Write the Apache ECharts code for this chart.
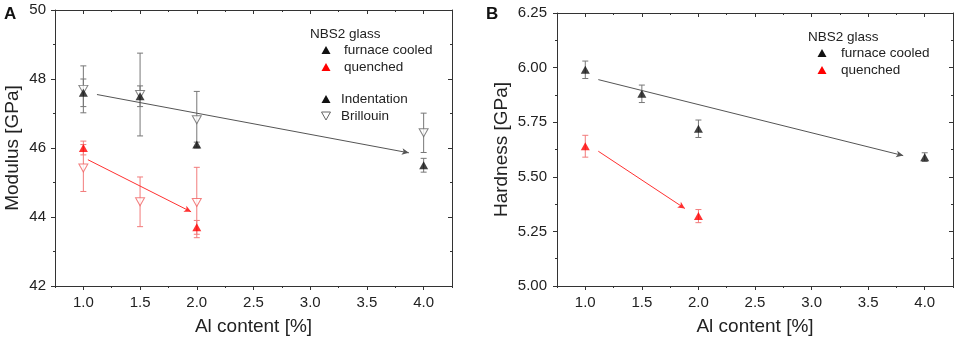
<!DOCTYPE html>
<html>
<head>
<meta charset="utf-8">
<script src="https://cdn.jsdelivr.net/npm/echarts@6/dist/echarts.min.js"></script>
<style>
  html, body { margin: 0; padding: 0; background: #fff; }
  #chart { width: 957px; height: 341px; }
</style>
</head>
<body>
<div id="chart"></div>
<script>
// ---- data ----
const xMajor = [1.0, 1.5, 2.0, 2.5, 3.0, 3.5, 4.0];
const xMinor = [0.75, 1.25, 1.75, 2.25, 2.75, 3.25, 3.75, 4.25];

// panel A: modulus
const modFcX = [1.0, 1.5, 2.0, 4.0];
const modIndFc = [47.6, 47.5, 46.1, 45.5];
const modIndFcErr = [0.4, 0.3, 0.07, 0.2];
const modBriFc = [47.7, 47.55, 46.82, 46.44];
const modBriFcErr = [0.68, 1.2, 0.82, 0.57];
const modIndQX = [1.0, 2.0];
const modIndQ = [46.0, 43.7];
const modIndQErr = [0.2, 0.2];
const modBriQX = [1.0, 1.5, 2.0];
const modBriQ = [45.42, 44.44, 44.42];
const modBriQErr = [0.68, 0.72, 1.02];
const modArrowFc = [[1.12, 47.55], [3.87, 45.86]];
const modArrowQ = [[1.04, 45.66], [1.95, 44.15]];

// panel B: hardness
const hardFcX = [1.0, 1.5, 2.0, 4.0];
const hardFc = [5.99, 5.88, 5.72, 5.59];
const hardFcErr = [0.04, 0.04, 0.04, 0.02];
const hardQX = [1.0, 2.0];
const hardQ = [5.64, 5.32];
const hardQErr = [0.05, 0.03];
const hardArrowFc = [[1.115, 5.945], [3.81, 5.597]];
const hardArrowQ = [[1.115, 5.617], [1.88, 5.355]];

const FONT = 'Liberation Sans, Arial, sans-serif';
const AXIS = '#333';
const BLACK = '#111';
const GREY_ERR = '#777';
const RED = '#ff0000';
const RED_ERR = '#f27b7b';

function pts(xs, ys) { return xs.map((x, i) => [x, ys[i]]); }
function errs(xs, ys, es) { return xs.map((x, i) => [x, ys[i] - es[i], ys[i] + es[i]]); }

function renderErr(params, api) {
  const x = api.value(0);
  const lo = api.coord([x, api.value(1)]);
  const hi = api.coord([x, api.value(2)]);
  const w = 3;
  const style = { stroke: api.visual('color'), lineWidth: 1 };
  return {
    type: 'group',
    children: [
      { type: 'line', shape: { x1: lo[0], y1: lo[1], x2: hi[0], y2: hi[1] }, style },
      { type: 'line', shape: { x1: lo[0] - w, y1: lo[1], x2: lo[0] + w, y2: lo[1] }, style },
      { type: 'line', shape: { x1: hi[0] - w, y1: hi[1], x2: hi[0] + w, y2: hi[1] }, style }
    ]
  };
}

function errSeries(xi, yi, data, color) {
  return {
    type: 'custom', xAxisIndex: xi, yAxisIndex: yi, renderItem: renderErr,
    itemStyle: { color }, data, silent: true, z: 2
  };
}

function marks(xi, yi, data, color, hollow) {
  return {
    type: 'scatter', xAxisIndex: xi, yAxisIndex: yi, data,
    symbol: 'triangle', symbolSize: [9, 8],
    symbolRotate: hollow ? 180 : 0,
    itemStyle: hollow
      ? { color: '#fff', borderColor: color, borderWidth: 1 }
      : { color },
    silent: true, z: 3
  };
}

function arrow(xi, yi, seg, color) {
  return {
    type: 'scatter', xAxisIndex: xi, yAxisIndex: yi, data: [], silent: true,
    markLine: {
      silent: true, symbol: ['none', 'arrow'], symbolSize: [5, 7],
      label: { show: false },
      lineStyle: { color, width: 1, type: 'solid' },
      animation: false,
      data: [[{ coord: seg[0] }, { coord: seg[1] }]]
    }
  };
}

function xAxes(gi) {
  const base = { type: 'value', gridIndex: gi, min: 0.75, max: 4.25, splitLine: { show: false } };
  const line = { lineStyle: { color: AXIS, width: 1 } };
  return [
    Object.assign({}, base, {
      position: 'bottom', axisLine: line,
      axisTick: { customValues: xMajor, length: 4, lineStyle: { color: AXIS } },
      axisLabel: { customValues: xMajor, formatter: v => v.toFixed(1), margin: 9,
        fontSize: 15, fontFamily: FONT, color: '#222' },
      name: 'Al content [%]', nameLocation: 'middle', nameGap: 31,
      nameTextStyle: { fontSize: 19, fontFamily: FONT, color: '#222' }
    }),
    Object.assign({}, base, {
      position: 'bottom', axisLine: { show: false },
      axisTick: { customValues: xMinor, length: 2, lineStyle: { color: AXIS } },
      axisLabel: { show: false }
    }),
    Object.assign({}, base, {
      position: 'top', axisLine: line,
      axisTick: { customValues: xMajor, length: 4, inside: true, lineStyle: { color: AXIS } },
      axisLabel: { show: false }
    }),
    Object.assign({}, base, {
      position: 'top', axisLine: { show: false },
      axisTick: { customValues: xMinor, length: 2, inside: true, lineStyle: { color: AXIS } },
      axisLabel: { show: false }
    })
  ];
}

function yAxes(gi, min, max, interval, name, nameGap, margin, fmt) {
  const base = {
    type: 'value', gridIndex: gi, min, max, interval,
    splitLine: { show: false },
    axisLine: { show: true, lineStyle: { color: AXIS, width: 1 } },
    minorTick: { show: true, splitNumber: 2, length: 2, lineStyle: { color: AXIS } }
  };
  return [
    Object.assign({}, base, {
      position: 'left',
      axisTick: { show: true, length: 4, lineStyle: { color: AXIS } },
      axisLabel: { margin, fontSize: 15, fontFamily: FONT, color: '#222', formatter: fmt },
      name, nameLocation: 'middle', nameGap,
      nameTextStyle: { fontSize: 19, fontFamily: FONT, color: '#222' }
    }),
    Object.assign({}, base, {
      position: 'right',
      axisTick: { show: true, length: 4, inside: true, lineStyle: { color: AXIS } },
      axisLabel: { show: false }
    })
  ];
}

function tri(cx, cy, color, hollow) {
  const h = 4;
  const points = hollow
    ? [[cx - 4.5, cy - h], [cx + 4.5, cy - h], [cx, cy + h]]
    : [[cx - 4.5, cy + h], [cx + 4.5, cy + h], [cx, cy - h]];
  return {
    type: 'polygon', shape: { points },
    style: hollow ? { fill: '#fff', stroke: color, lineWidth: 1 } : { fill: color }
  };
}
function txt(x, y, text, extra) {
  return {
    type: 'text', x, y,
    style: Object.assign({ text, fill: '#222', font: '13.5px ' + FONT, textVerticalAlign: 'middle' }, extra || {})
  };
}

const chart = echarts.init(document.getElementById('chart'), null, { renderer: 'canvas' });
chart.setOption({
  animation: false,
  backgroundColor: '#fff',
  grid: [
    { left: 55, top: 10, width: 397, height: 277 },
    { left: 557, top: 13, width: 396, height: 275 }
  ],
  xAxis: xAxes(0).concat(xAxes(1)),
  yAxis: yAxes(0, 42, 50, 2, 'Modulus [GPa]', 33, 9, v => v.toFixed(0))
    .concat(yAxes(1, 5, 6.25, 0.25, 'Hardness [GPa]', 46, 10, v => v.toFixed(2))),
  series: [
    // panel A
    errSeries(0, 0, errs(modFcX, modBriFc, modBriFcErr), GREY_ERR),
    errSeries(0, 0, errs(modFcX, modIndFc, modIndFcErr), GREY_ERR),
    errSeries(0, 0, errs(modBriQX, modBriQ, modBriQErr), RED_ERR),
    errSeries(0, 0, errs(modIndQX, modIndQ, modIndQErr), RED_ERR),
    arrow(0, 0, modArrowFc, '#555'),
    arrow(0, 0, modArrowQ, '#ff3030'),
    marks(0, 0, pts(modFcX, modBriFc), '#666', true),
    marks(0, 0, pts(modBriQX, modBriQ), '#f06060', true),
    marks(0, 0, pts(modFcX, modIndFc), BLACK, false),
    marks(0, 0, pts(modIndQX, modIndQ), RED, false),
    // panel B
    errSeries(4, 2, errs(hardFcX, hardFc, hardFcErr), GREY_ERR),
    errSeries(4, 2, errs(hardQX, hardQ, hardQErr), RED_ERR),
    arrow(4, 2, hardArrowFc, '#555'),
    arrow(4, 2, hardArrowQ, '#ff3030'),
    marks(4, 2, pts(hardFcX, hardFc), BLACK, false),
    marks(4, 2, pts(hardQX, hardQ), RED, false)
  ],
  graphic: [
    txt(4, 14, 'A', { font: 'bold 17px ' + FONT, fill: '#111' }),
    txt(486, 14, 'B', { font: 'bold 17px ' + FONT, fill: '#111' }),
    // legend A
    txt(310, 34, 'NBS2 glass'),
    tri(326, 50, BLACK, false), txt(344, 50, 'furnace cooled'),
    tri(326, 67, RED, false), txt(344, 67, 'quenched'),
    tri(326, 99, BLACK, false), txt(341, 99, 'Indentation'),
    tri(326, 116, '#666', true), txt(341, 116, 'Brillouin'),
    // legend B
    txt(808, 37, 'NBS2 glass'),
    tri(822, 53, BLACK, false), txt(841, 53, 'furnace cooled'),
    tri(822, 70, RED, false), txt(841, 70, 'quenched')
  ]
});
</script>
</body>
</html>
